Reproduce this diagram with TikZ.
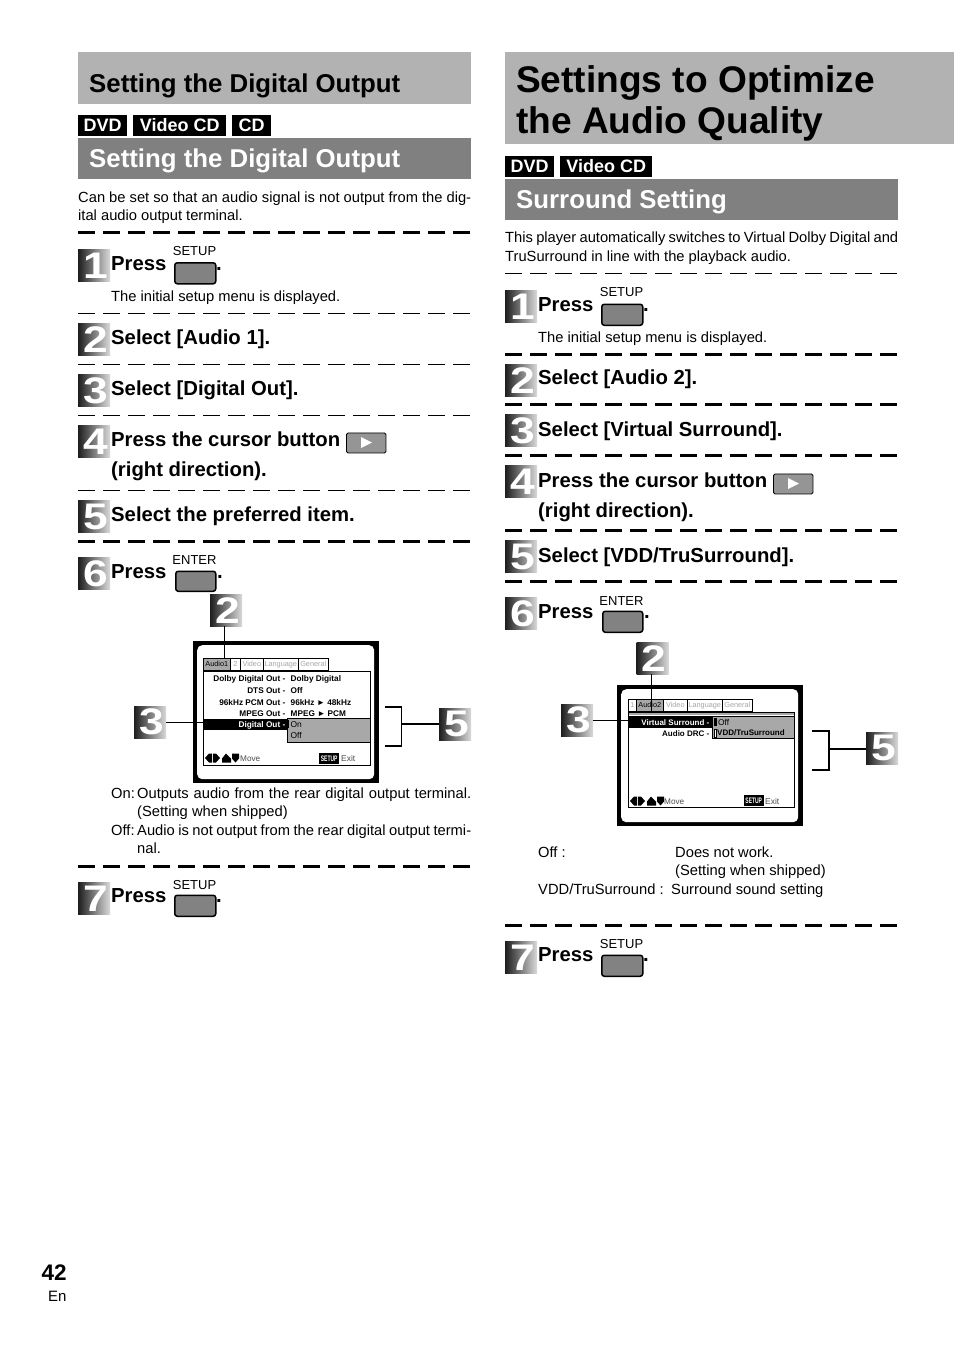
\documentclass[tikz,border=0pt]{standalone}
\usepackage{fontspec}
\setmainfont{Liberation Sans}

\newcommand{\fs}[1]{\fontsize{#1}{#1}\selectfont}
\newcommand{\stepdigit}[1]{\hspace{3pt}\scalebox{1.2}[1]{#1}}
\definecolor{barlight}{HTML}{B2B2B2}
\definecolor{bardark}{HTML}{808080}
\definecolor{keygray}{HTML}{828282}
\definecolor{tabgray}{HTML}{A8A8A8}

\tikzset{
  txt/.style={inner sep=0pt,anchor=base west},
  head/.style={txt,font=\fs{25.8}\bfseries},
  bigtitle/.style={txt,font=\fs{37.1}\bfseries},
  steptext/.style={txt,font=\fs{20.3}\bfseries},
  body/.style={txt,font=\fs{14.72}},
  bar/.style={anchor=north west,inner sep=0pt},
  tag/.style={bar,fill=black,text=white,font=\fs{18}\bfseries,minimum height=20.5pt},
  stepmark/.style={anchor=north west,inner sep=0pt,minimum size=32pt,left color=black!88,
    right color=black!14,text=white,font=\fs{37}\bfseries},
  keybtn/.style={anchor=north west,inner sep=0pt,draw=black,line width=1.5pt,fill=keygray,rounded corners=2.5pt},
  cursorbtn/.style={anchor=north west,inner sep=0pt,draw=black,line width=.9pt,fill=keygray!85,rounded corners=1.5pt,
    minimum width=39.5pt,minimum height=20pt},
  keylabel/.style={inner sep=0pt,font=\fs{13}},
  rulethick/.style={line width=2.2pt,dash pattern=on 16.5pt off 8.5pt},
  rulethin/.style={line width=1.2pt,dash pattern=on 16.5pt off 8.5pt},
  callout/.style={line width=1.2pt},
  bracket/.style={line width=1.3pt},
  tabbox/.style={draw=black,line width=.6pt,inner sep=0pt,anchor=south west,minimum height=12pt,
    text height=5.6pt,text depth=1.6pt,font=\fs{7.3}},
  menutext/.style={inner sep=0pt,font=\fs{8.25}\bfseries},
  menuname/.style={menutext,anchor=base east},
  menuval/.style={menutext,anchor=base west},
  popup/.style={anchor=north west,inner sep=0pt,fill=tabgray,draw=black,line width=.6pt},
  setupbox/.style={anchor=north west,inner sep=0pt,fill=black,text=white,minimum width=20pt,minimum height=10.5pt,font=\fs{8}\bfseries},
}

\newcommand{\movekeys}[2]{%
  \begin{scope}[shift={(#1,#2)}]
    \fill (0,4.5) -- (4,0) -- (7,0) -- (7,9) -- (4,9) -- cycle;
    \fill (15,4.5) -- (11,0) -- (8,0) -- (8,9) -- (11,9) -- cycle;
    \fill (21,0) -- (26,5) -- (26,9) -- (17,9) -- (17,5) -- cycle;
    \fill (27,0) -- (34,0) -- (34,5) -- (30.5,9) -- (27,5) -- cycle;
  \end{scope}}

\begin{document}
\begin{tikzpicture}[x=1pt,y=-1pt]
  \useasboundingbox (0,0) rectangle (954,1346);
  \fill[white] (0,0) rectangle (954,1346);

  % left column header
  \node[bar,fill=barlight,minimum width=393pt,minimum height=52pt] (barone) at (78,52) {};
  \node[head] (headone) at (89,92.5) {Setting the Digital Output};
  \node[tag,minimum width=49pt] (tagdvd) at (78,115) {DVD};
  \node[tag,minimum width=93pt] (tagvcd) at (133,115) {Video CD};
  \node[tag,minimum width=39pt] (tagcd) at (232,115) {CD};
  \node[bar,fill=bardark,minimum width=393pt,minimum height=41pt] (bartwo) at (78,138) {};
  \node[head,text=white] (headtwo) at (89,167.5) {Setting the Digital Output};
  \node[body] (introa) at (78,202) {\makebox[393pt][s]{Can be set so that an audio signal is not output from the dig-}};
  \node[body] (introb) at (78,220) {ital audio output terminal.};

  % right column header
  \node[bar,fill=barlight,minimum width=449pt,minimum height=92pt] (barthree) at (505,52) {};
  \node[bigtitle] (titlea) at (516,92.5) {Settings to Optimize};
  \node[bigtitle] (titleb) at (516,133) {the Audio Quality};
  \node[tag,minimum width=49pt] (tagdvdb) at (505,156) {DVD};
  \node[tag,minimum width=92pt] (tagvcdb) at (560,156) {Video CD};
  \node[bar,fill=bardark,minimum width=393pt,minimum height=41pt] (barfour) at (505,179) {};
  \node[head,text=white] (headthree) at (516,208.5) {Surround Setting};
  \node[body] (introc) at (505,242) {\makebox[393pt][s]{This player automatically switches to Virtual Dolby Digital and}};
  \node[body] (introd) at (505,261) {TruSurround in line with the playback audio.};

  % dashed rules
  \foreach \y in {232.5,541.5,866.5}
    \draw[rulethick] (78,\y) -- (471,\y);
  \foreach \y in {313.5,364.5,415.5,490.5}
    \draw[rulethin] (78,\y) -- (471,\y);
  \foreach \y in {354.5,404.5,455.5,530.5,581.5,925.5}
    \draw[rulethick] (505,\y) -- (898,\y);
  \draw[rulethin] (505,273.5) -- (898,273.5);

  % step marks
  \foreach \n/\y in {1/249.5,2/323.5,3/374.5,4/425.5,5/500.5,6/557.5,7/882.5}
    \node[stepmark] (markl\n) at (78,\y) {\stepdigit{\n}};
  \foreach \n/\y in {1/290.5,2/364.5,3/414.5,4/465.5,5/540.5,6/597.5,7/941.5}
    \node[stepmark] (markr\n) at (505,\y) {\stepdigit{\n}};

  % left steps
  \node[steptext] (pressa) at (111,270) {Press};
  \node[keylabel] (setupa) at (194.5,251) {SETUP};
  \node[keybtn,minimum width=41pt,minimum height=21pt] (keya) at (174,262) {};
  \node[steptext] (dota) at (216,270) {.};
  \node[body] (infoa) at (111,301) {The initial setup menu is displayed.};
  \node[steptext] (selaudio) at (111,344) {Select [Audio 1].};
  \node[steptext] (seldig) at (111,395) {Select [Digital Out].};
  \node[steptext] (cursora) at (111,446) {Press the cursor button};
  \node[cursorbtn] (cursorkeya) at (346,432.5) {};
  \fill[white] (361,437) -- (372,442.5) -- (361,448) -- cycle;
  \node[steptext] (righta) at (111,476) {(right direction).};
  \node[steptext] (selpref) at (111,521) {Select the preferred item.};
  \node[steptext] (pressb) at (111,578) {Press};
  \node[keylabel] (entera) at (194.5,560) {ENTER};
  \node[keybtn,minimum width=40pt,minimum height=20pt] (keyb) at (175,570.5) {};
  \node[steptext] (dotb) at (217,578) {.};
  \node[steptext] (pressc) at (111,902) {Press};
  \node[keylabel] (setupb) at (194.5,885) {SETUP};
  \node[keybtn,minimum width=41pt,minimum height=21pt] (keyc) at (174,894.5) {};
  \node[steptext] (dotc) at (216,902) {.};

  % right steps
  \node[steptext] (pressd) at (538,311) {Press};
  \node[keylabel] (setupc) at (621.5,292) {SETUP};
  \node[keybtn,minimum width=41pt,minimum height=21pt] (keyd) at (601,303.5) {};
  \node[steptext] (dotd) at (643,311) {.};
  \node[body] (infob) at (538,342) {The initial setup menu is displayed.};
  \node[steptext] (selaudiob) at (538,384) {Select [Audio 2].};
  \node[steptext] (selvirt) at (538,436) {Select [Virtual Surround].};
  \node[steptext] (cursorb) at (538,487) {Press the cursor button};
  \node[cursorbtn] (cursorkeyb) at (773,473.5) {};
  \fill[white] (788,478) -- (799,483.5) -- (788,489) -- cycle;
  \node[steptext] (rightb) at (538,517) {(right direction).};
  \node[steptext] (selvdd) at (538,562) {Select [VDD/TruSurround].};
  \node[steptext] (presse) at (538,618) {Press};
  \node[keylabel] (enterb) at (621.5,601) {ENTER};
  \node[keybtn,minimum width=40pt,minimum height=21pt] (keye) at (602,610.5) {};
  \node[steptext] (dote) at (644,618) {.};
  \node[steptext] (pressf) at (538,961) {Press};
  \node[keylabel] (setupd) at (621.5,944) {SETUP};
  \node[keybtn,minimum width=41pt,minimum height=21pt] (keyf) at (601,954.5) {};
  \node[steptext] (dotf) at (643,961) {.};

  % left screen
  \node[bar,fill=black,minimum width=186pt,minimum height=142pt] (screenl) at (193,641) {};
  \node[bar,fill=white,rounded corners=5pt,minimum width=177pt,minimum height=134pt] (screenlin) at (197,645) {};
  \node[bar,draw=black,line width=.7pt,fill=white,minimum width=166.5pt,minimum height=94pt] (panell) at (203,670.5) {};
  \foreach \xa/\xb/\lab/\col/\bg in {203/230/Audio1/black/tabgray,230/240/2/black!35/white,240/263/Video/black!35/white,263/298/Language/black!35/white,298/328/General/black!35/white}
    \node[tabbox,minimum width={(\xb-\xa)*1pt},text=\col,fill=\bg] (tabl\lab) at (\xa,670.5) {\lab};
  \foreach \y/\na/\va in {681/Dolby Digital Out -/Dolby Digital,693/DTS Out -/Off,705/96kHz PCM Out -/96kHz ► 48kHz,716/MPEG Out -/MPEG ► PCM}{
    \node[menuname] (namel\y) at (285.5,\y) {\na};
    \node[menuval] (vall\y) at (290.5,\y) {\va};
  }
  \node[bar,fill=black,minimum width=84pt,minimum height=11.5pt] (rowl) at (203,718.5) {};
  \node[menuname,text=white] (rowltext) at (285.5,727) {Digital Out -};
  \node[popup,minimum width=83pt,minimum height=24pt] (popupl) at (286.5,718.2) {};
  \fill (287.5,720) rectangle (289,728);
  \node[menuval,font=\fs{8.4}] (onl) at (290.5,727) {On};
  \node[menuval,font=\fs{8.4}] (offl) at (290.5,738) {Off};
  \movekeys{205}{753.5}
  \node[txt,font=\fs{8.2},text=black!70] (movel) at (240,761) {Move};
  \node[setupbox] (setupl) at (319,753) {\scalebox{.62}[1]{SETUP}};
  \node[txt,font=\fs{8.4},text=black!70] (exitl) at (341,761) {Exit};

  \node[stepmark] (markltwo) at (210,594) {\stepdigit{2}};
  \node[stepmark] (marklthree) at (134,706) {\stepdigit{3}};
  \node[stepmark] (marklfive) at (439,708) {\stepdigit{5}};
  \draw[callout] ([xshift=-2pt]markltwo.south) -- ([xshift=-2pt]markltwo.south |- tablAudio1.north);
  \draw[callout] (marklthree.east) -- (marklthree.east -| rowl.west);
  \coordinate (bracklmid) at (401.5,724);
  \draw[bracket] (385,707) -- (401.5,707) -- (401.5,746) -- (385,746);
  \draw[callout] (bracklmid) -- (marklfive.west |- bracklmid);

  % left notes
  \node[body] (onlab) at (111,798) {On:};
  \node[body] (onnote) at (137,798) {\makebox[334pt][s]{Outputs audio from the rear digital output terminal.}};
  \node[body] (onship) at (137,816) {(Setting when shipped)};
  \node[body] (offlab) at (111,835) {Off:};
  \node[body] (offnote) at (137,835) {\makebox[334pt][s]{Audio is not output from the rear digital output termi-}};
  \node[body] (offend) at (137,853) {nal.};

  % right screen
  \node[bar,fill=black,minimum width=186pt,minimum height=141pt] (screenr) at (617,685) {};
  \node[bar,fill=white,rounded corners=5pt,minimum width=177pt,minimum height=133pt] (screenrin) at (621,689) {};
  \node[bar,draw=black,line width=.7pt,fill=white,minimum width=166pt,minimum height=95pt] (panelr) at (628,712) {};
  \foreach \xa/\xb/\lab/\col/\bg in {628/636/1/black!35/white,636/663/Audio2/black/tabgray,663/687/Video/black!35/white,687/722/Language/black!35/white,722/752/General/black!35/white}
    \node[tabbox,minimum width={(\xb-\xa)*1pt},text=\col,fill=\bg] (tabr\lab) at (\xa,712) {\lab};
  \fill[tabgray] (628.5,712.5) rectangle (793.5,715);
  \node[bar,fill=black,minimum width=84pt,minimum height=12pt] (rowr) at (628,716) {};
  \node[menuname,text=white,font=\fs{8}\bfseries] (rowrtext) at (709.5,725) {Virtual Surround -};
  \node[menuname,font=\fs{8}\bfseries] (drc) at (709.5,736) {Audio DRC -};
  \node[popup,minimum width=82pt,minimum height=22.5pt] (popupr) at (712,715.5) {};
  \fill (714,718) rectangle (716.5,726);
  \draw[line width=.5pt,fill=white] (714,729) rectangle (716.5,737);
  \node[menuval,font=\fs{8.4}] (offr) at (718,725) {Off};
  \node[menuval,font=\fs{8}\bfseries] (vddr) at (717,735) {VDD/TruSurround};
  \movekeys{630}{796.5}
  \node[txt,font=\fs{8.2},text=black!70] (mover) at (664,804.5) {Move};
  \node[setupbox] (setupr) at (743.5,795) {\scalebox{.62}[1]{SETUP}};
  \node[txt,font=\fs{8.4},text=black!70] (exitr) at (765,804) {Exit};

  \node[stepmark] (markrtwo) at (636.5,642) {\stepdigit{2}};
  \node[stepmark] (markrthree) at (561,704) {\stepdigit{3}};
  \node[stepmark] (markrfive) at (866,732) {\stepdigit{5}};
  \draw[callout] ([xshift=-1.5pt]markrtwo.south) -- ([xshift=-1.5pt]markrtwo.south |- panelr.north);
  \draw[callout] (markrthree.east) -- (markrthree.east -| rowr.west);
  \coordinate (brackrmid) at (829,749);
  \draw[bracket] (812,731) -- (829,731) -- (829,770) -- (812,770);
  \draw[callout] (brackrmid) -- (markrfive.west |- brackrmid);

  % right notes
  \node[body] (offlabr) at (538,857) {Off :};
  \node[body] (offnoter) at (675,857) {Does not work.};
  \node[body] (shipr) at (675,875) {(Setting when shipped)};
  \node[body] (vddlab) at (538,894) {VDD/TruSurround :};
  \node[body] (vddnote) at (671,894) {Surround sound setting};

  % page number
  \node[txt,font=\fs{22.5}\bfseries] (pagenum) at (41.5,1280.5) {42};
  \node[txt,font=\fs{15}] (pagelang) at (48,1301) {En};
\end{tikzpicture}
\end{document}
